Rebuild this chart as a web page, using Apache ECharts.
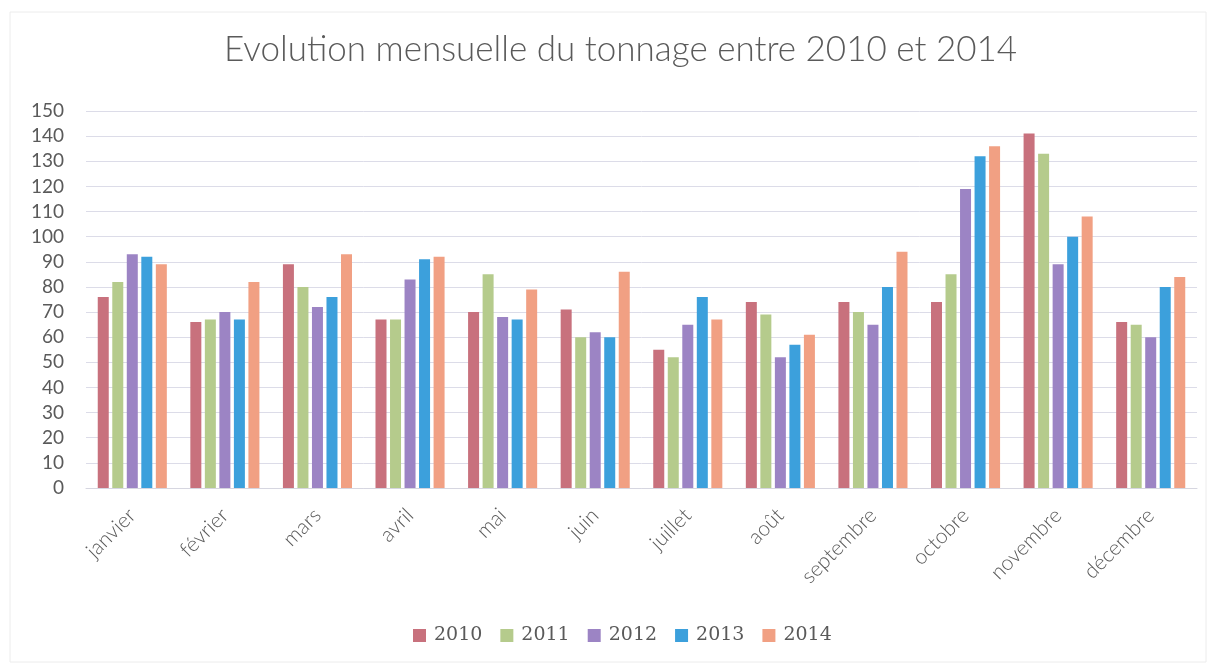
<!DOCTYPE html>
<html>
<head>
<meta charset="utf-8">
<script src="https://cdn.jsdelivr.net/npm/echarts@6/dist/echarts.min.js"></script>
<style>
html,body{margin:0;padding:0;background:#ffffff;}
#chart{width:1213px;height:670px;}
</style>
</head>
<body>
<div id="chart"></div>
<script>
const months = ['janvier','février','mars','avril','mai','juin','juillet','août','septembre','octobre','novembre','décembre'];
const years = ['2010','2011','2012','2013','2014'];
const s2010 = [76, 66, 89, 67, 70, 71, 55, 74, 74, 74, 141, 66];
const s2011 = [82, 67, 80, 67, 85, 60, 52, 69, 70, 85, 133, 65];
const s2012 = [93, 70, 72, 83, 68, 62, 65, 52, 65, 119, 89, 60];
const s2013 = [92, 67, 76, 91, 67, 60, 76, 57, 80, 132, 100, 80];
const s2014 = [89, 82, 93, 92, 79, 86, 67, 61, 94, 136, 108, 84];
const colors = ['#c8717d', '#b5cb8c', '#9c84c4', '#3ca0dc', '#f1a083'];

const seriesData = [s2010, s2011, s2012, s2013, s2014];
const chart = echarts.init(document.getElementById('chart'));
const font = 'Lato, "Open Sans", sans-serif';
chart.setOption({
  animation: false,
  backgroundColor: '#ffffff',
  color: colors,
  title: {
    text: 'Evolution mensuelle du tonnage entre 2010 et 2014',
    left: 219,
    top: 27,
    textStyle: { fontFamily: font, fontSize: 35, fontWeight: 300, color: '#5a5a5a' }
  },
  graphic: [{
    type: 'rect',
    shape: { x: 10, y: 12, width: 1196, height: 650 },
    style: { fill: 'none', stroke: '#ececec', lineWidth: 1 },
    silent: true
  }],
  legend: {
    data: years,
    bottom: 20,
    left: 408,
    itemWidth: 13,
    itemHeight: 13,
    itemGap: 18,
    icon: 'rect',
    textStyle: { fontFamily: '"DejaVu Serif", serif', fontSize: 19, color: '#5a5a5a', padding: [0, 0, 0, 3] }
  },
  grid: { left: 86, right: 16, top: 111, bottom: 182, containLabel: false },
  xAxis: {
    type: 'category',
    data: months,
    axisTick: { show: false },
    axisLine: { lineStyle: { color: '#d6d6e0', width: 1 } },
    axisLabel: { rotate: 45, margin: 24, fontFamily: font, fontSize: 21, fontWeight: 300, color: '#5a5a5a', interval: 0 }
  },
  yAxis: {
    type: 'value',
    min: 0, max: 150, interval: 10,
    axisLine: { show: false },
    axisTick: { show: false },
    splitLine: { lineStyle: { color: '#dcdce8', width: 1 } },
    axisLabel: { margin: 22, fontFamily: font, fontSize: 19, color: '#5a5a5a' }
  },
  series: seriesData.map((d, i) => ({
    name: years[i],
    type: 'bar',
    data: d,
    barWidth: 11,
    barGap: '32%',
    itemStyle: { color: colors[i] }
  }))
});
</script>
</body>
</html>
